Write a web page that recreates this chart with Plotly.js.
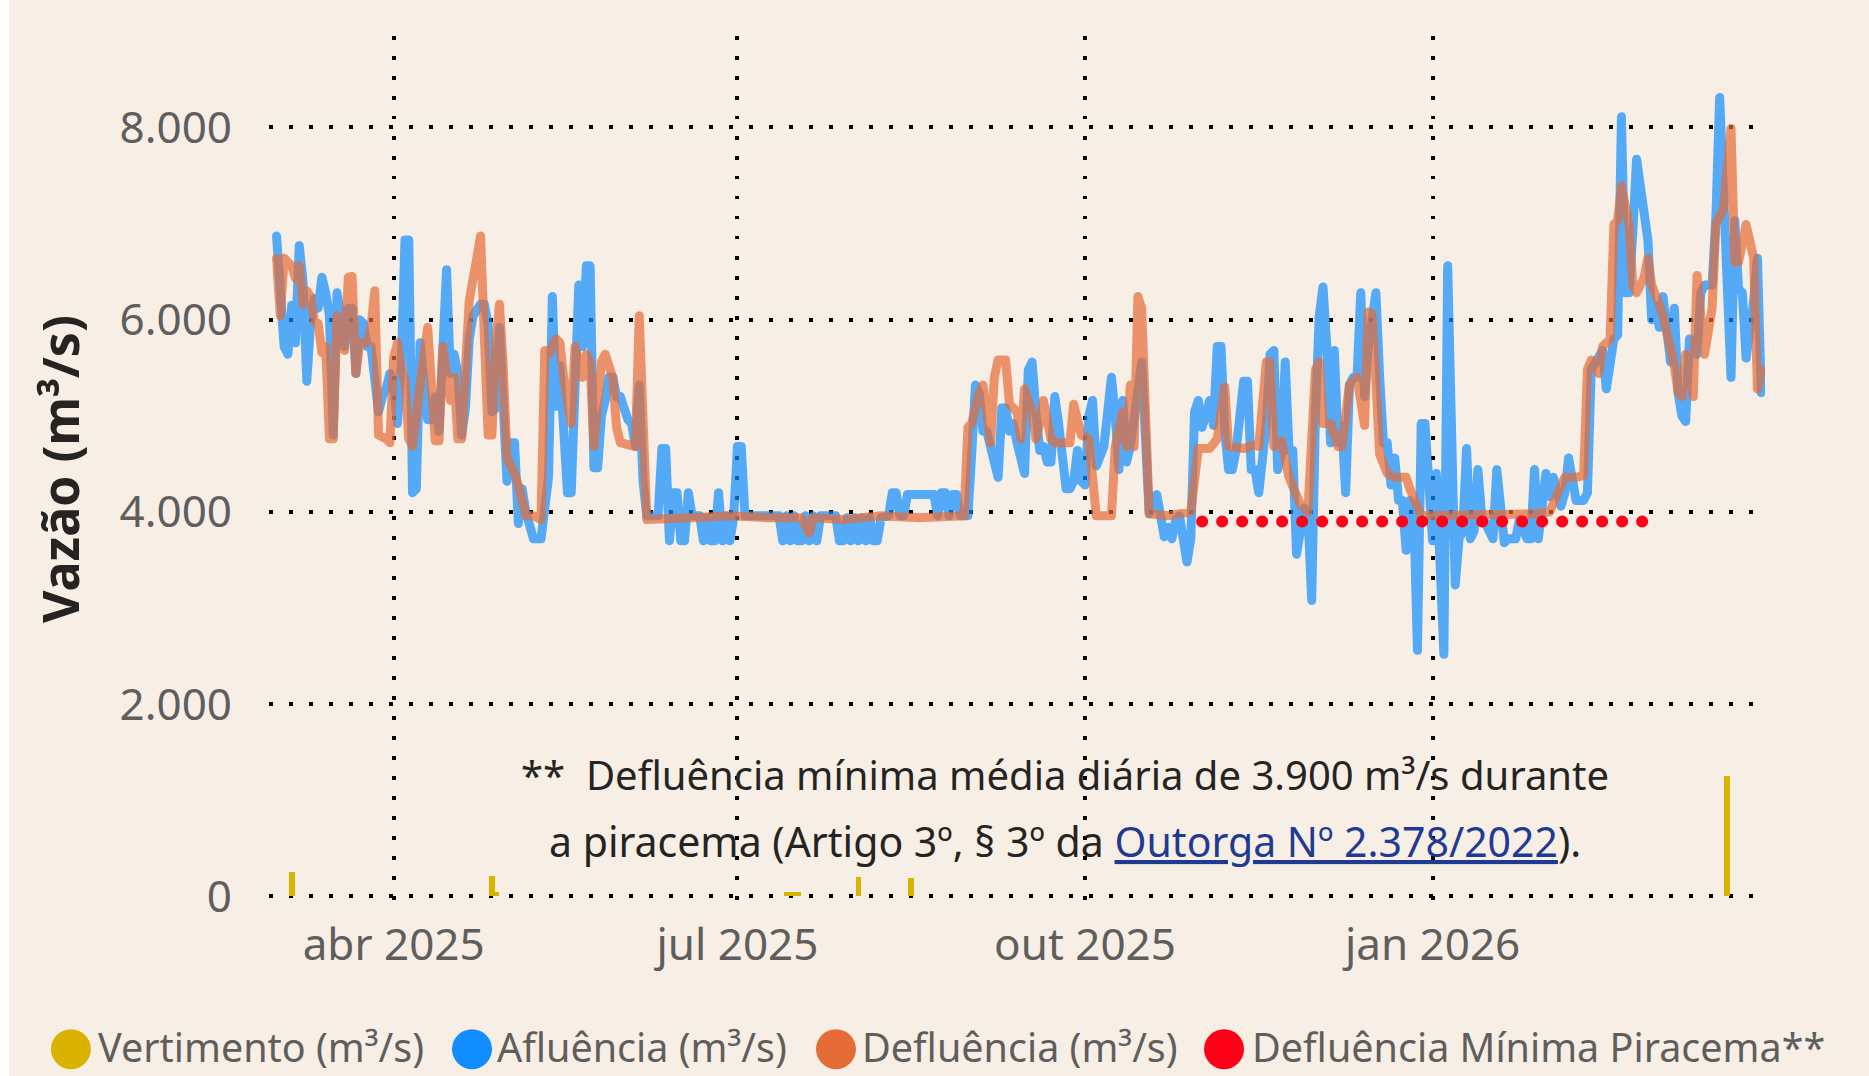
<!DOCTYPE html>
<html>
<head>
<meta charset="utf-8">
<script src="https://cdn.plot.ly/plotly-3.0.1.min.js"></script>
<style>
html,body{margin:0;padding:0;background:#ffffff;}
#chart{position:absolute;left:9px;top:0;width:1860px;height:1076px;}
.scatterlayer .js-line{stroke-linejoin:round;stroke-linecap:round;}
</style>
</head>
<body>
<div id="chart"></div>
<script>
// ---------- DATA ----------
const seriesNames = ["Vertimento (m³/s)", "Afluência (m³/s)", "Defluência (m³/s)", "Defluência Mínima Piracema**"];

const xTickVals = ["2025-04-01", "2025-07-01", "2025-10-01", "2026-01-01"];
const xTickText = ["abr 2025", "jul 2025", "out 2025", "jan 2026"];
const yTickVals = [0, 2000, 4000, 6000, 8000];
const yTickText = ["0", "2.000", "4.000", "6.000", "8.000"];

// Vertimento (spillway) columns
const vertDates = ["2025-03-05", "2025-04-27", "2025-04-28", "2025-07-14", "2025-07-15", "2025-07-16", "2025-07-17", "2025-08-02", "2025-08-16", "2026-03-20"];
const vertValues = [250, 210, 45, 45, 45, 45, 45, 200, 190, 1250];

// Afluência (inflow)
const afluDates = [
"2025-03-01","2025-03-02","2025-03-03","2025-03-04","2025-03-05","2025-03-06","2025-03-07","2025-03-08","2025-03-09","2025-03-10",
"2025-03-11","2025-03-12","2025-03-13","2025-03-14","2025-03-15","2025-03-16","2025-03-17","2025-03-18","2025-03-19","2025-03-20",
"2025-03-21","2025-03-22","2025-03-23","2025-03-24","2025-03-25","2025-03-26","2025-03-27","2025-03-28","2025-03-29","2025-03-30",
"2025-03-31","2025-04-01","2025-04-02","2025-04-03","2025-04-04","2025-04-05","2025-04-06","2025-04-07","2025-04-08","2025-04-09",
"2025-04-10","2025-04-11","2025-04-12","2025-04-13","2025-04-15","2025-04-16","2025-04-17","2025-04-18","2025-04-19","2025-04-20",
"2025-04-21","2025-04-22","2025-04-24","2025-04-25","2025-04-26","2025-04-27","2025-04-28","2025-04-29","2025-05-01","2025-05-02",
"2025-05-03","2025-05-04","2025-05-05","2025-05-06","2025-05-08","2025-05-10","2025-05-12","2025-05-13","2025-05-14","2025-05-15",
"2025-05-17","2025-05-18","2025-05-19","2025-05-20","2025-05-21","2025-05-22","2025-05-23","2025-05-24","2025-05-25","2025-05-26",
"2025-05-27","2025-05-28","2025-05-29","2025-05-30","2025-05-31","2025-06-01","2025-06-02","2025-06-03","2025-06-04","2025-06-05",
"2025-06-06","2025-06-07","2025-06-10","2025-06-11","2025-06-12","2025-06-13","2025-06-14","2025-06-15","2025-06-16","2025-06-17",
"2025-06-18","2025-06-19","2025-06-21","2025-06-22","2025-06-23","2025-06-24","2025-06-25","2025-06-26","2025-06-27","2025-06-28",
"2025-06-29","2025-06-30","2025-07-01","2025-07-02","2025-07-03","2025-07-12","2025-07-13","2025-07-14","2025-07-15","2025-07-16",
"2025-07-17","2025-07-18","2025-07-19","2025-07-20","2025-07-21","2025-07-22","2025-07-23","2025-07-27","2025-07-28","2025-07-29",
"2025-07-30","2025-07-31","2025-08-01","2025-08-02","2025-08-03","2025-08-04","2025-08-05","2025-08-06","2025-08-07","2025-08-08",
"2025-08-10","2025-08-11","2025-08-12","2025-08-13","2025-08-14","2025-08-15","2025-08-22","2025-08-23","2025-08-24","2025-08-25",
"2025-08-26","2025-08-27","2025-08-28","2025-08-29","2025-08-31","2025-09-01","2025-09-02","2025-09-03","2025-09-04","2025-09-05",
"2025-09-07","2025-09-08","2025-09-09","2025-09-10","2025-09-11","2025-09-12","2025-09-13","2025-09-15","2025-09-16","2025-09-17",
"2025-09-18","2025-09-19","2025-09-20","2025-09-21","2025-09-22","2025-09-23","2025-09-24","2025-09-26","2025-09-27","2025-09-28",
"2025-09-29","2025-09-30","2025-10-01","2025-10-02","2025-10-03","2025-10-04","2025-10-06","2025-10-08","2025-10-09","2025-10-10",
"2025-10-11","2025-10-12","2025-10-13","2025-10-14","2025-10-15","2025-10-16","2025-10-18","2025-10-20","2025-10-22","2025-10-23",
"2025-10-24","2025-10-25","2025-10-26","2025-10-27","2025-10-28","2025-10-29","2025-10-30","2025-10-31","2025-11-01","2025-11-03",
"2025-11-04","2025-11-05","2025-11-06","2025-11-07","2025-11-08","2025-11-09","2025-11-10","2025-11-11","2025-11-12","2025-11-13",
"2025-11-14","2025-11-15","2025-11-16","2025-11-18","2025-11-19","2025-11-20","2025-11-21","2025-11-22","2025-11-23","2025-11-24",
"2025-11-25","2025-11-26","2025-11-27","2025-11-28","2025-11-29","2025-11-30","2025-12-01","2025-12-02","2025-12-03","2025-12-04",
"2025-12-05","2025-12-06","2025-12-07","2025-12-08","2025-12-09","2025-12-10","2025-12-11","2025-12-12","2025-12-13","2025-12-14",
"2025-12-15","2025-12-17","2025-12-18","2025-12-19","2025-12-20","2025-12-21","2025-12-22","2025-12-23","2025-12-24","2025-12-25",
"2025-12-26","2025-12-27","2025-12-28","2025-12-29","2025-12-30","2025-12-31","2026-01-01","2026-01-02","2026-01-04","2026-01-05",
"2026-01-07","2026-01-08","2026-01-09","2026-01-10","2026-01-11","2026-01-12","2026-01-13","2026-01-14","2026-01-16","2026-01-17",
"2026-01-18","2026-01-19","2026-01-20","2026-01-21","2026-01-23","2026-01-24","2026-01-26","2026-01-27","2026-01-28","2026-01-29",
"2026-01-31","2026-02-01","2026-02-02","2026-02-04","2026-02-05","2026-02-06","2026-02-08","2026-02-10","2026-02-11","2026-02-12",
"2026-02-14","2026-02-15","2026-02-16","2026-02-17","2026-02-18","2026-02-19","2026-02-20","2026-02-21","2026-02-22","2026-02-23",
"2026-02-24","2026-02-26","2026-02-27","2026-02-28","2026-03-01","2026-03-02","2026-03-03","2026-03-05","2026-03-06","2026-03-07",
"2026-03-08","2026-03-09","2026-03-10","2026-03-11","2026-03-12","2026-03-13","2026-03-14","2026-03-16","2026-03-17","2026-03-18",
"2026-03-19","2026-03-20","2026-03-21","2026-03-22","2026-03-23","2026-03-24","2026-03-25","2026-03-27","2026-03-28","2026-03-29"
];
const afluValues = [
6870,6200,5720,5640,6150,5760,6770,6400,5360,5960,
6220,6120,6440,6280,6040,4800,6280,6040,5720,6120,
6120,5440,6000,5960,5720,5720,5400,5040,5200,5280,
5440,5320,4920,5520,6830,6830,4200,4240,5760,5300,
4960,4960,5200,4840,6520,5440,5640,5440,4800,5080,
5800,6040,6160,6160,5960,5040,5080,5920,4320,4720,
4720,3880,4240,4000,3720,3720,4360,6240,5100,5520,
4200,4200,5720,6360,5720,6560,6560,4460,4460,5000,
5160,5400,5400,5200,5200,5040,4960,4920,4680,5320,
4320,3960,3960,4660,4660,3700,4200,4200,3700,3700,
4200,3960,3960,3700,3940,3700,3700,4200,3700,3960,
3700,3940,4680,4680,3960,3960,3700,3960,3700,3960,
3700,3700,3960,3700,3960,3700,3960,3960,3700,3700,
3940,3700,3940,3700,3940,3700,3940,3700,3700,3940,
3960,4200,4200,3960,3960,4180,4180,3960,4200,4200,
3960,4180,4180,3960,3960,4600,5320,5240,4840,4840,
4440,4360,5080,5080,4840,4920,4720,4400,5480,5560,
5040,4640,4680,4520,4520,5200,4920,4240,4240,4320,
4640,4320,4280,5000,5160,4480,4680,5400,5000,4440,
5160,4520,4680,4960,5160,5560,3980,4180,3740,3840,
3720,3920,3960,3720,3480,3720,5040,5160,4880,5160,
4900,5720,5720,4840,4440,4440,4640,5000,5360,5360,
4440,4440,4200,4920,5640,5680,4440,4600,5560,4640,
4640,3560,3880,4040,4000,3080,5000,6040,6340,5720,
4720,5680,4720,4900,4200,5320,5400,5400,6280,5200,
5720,6280,5400,4720,4720,4280,4560,4120,4120,3600,
4120,4040,2560,4920,4920,4400,3700,4400,2520,6560,
3240,3720,3800,4660,3720,3800,4440,3960,3760,3720,
4440,3920,3680,3720,3720,3920,3720,3720,4440,3720,
4400,4160,4360,4060,4200,4560,4120,4120,4200,5480,
5640,5680,5280,5640,5800,5840,8110,6280,6280,6900,
7670,7110,6830,6000,6150,5920,6240,5560,6120,5240,
5000,4940,5800,5680,5640,6280,6360,6360,7070,8310,
7430,6640,5400,7030,6320,6280,5600,6200,6640,5240
];

// Defluência (outflow)
const deflDates = [
"2025-03-01","2025-03-02","2025-03-03","2025-03-04","2025-03-05","2025-03-06","2025-03-07","2025-03-08","2025-03-09","2025-03-10",
"2025-03-11","2025-03-12","2025-03-13","2025-03-14","2025-03-15","2025-03-16","2025-03-17","2025-03-18","2025-03-19","2025-03-20",
"2025-03-21","2025-03-22","2025-03-23","2025-03-25","2025-03-26","2025-03-27","2025-03-28","2025-03-30","2025-03-31","2025-04-01",
"2025-04-02","2025-04-03","2025-04-04","2025-04-05","2025-04-06","2025-04-08","2025-04-10","2025-04-12","2025-04-13","2025-04-14",
"2025-04-15","2025-04-16","2025-04-17","2025-04-18","2025-04-19","2025-04-20","2025-04-21","2025-04-23","2025-04-24","2025-04-26",
"2025-04-27","2025-04-28","2025-04-29","2025-04-30","2025-05-01","2025-05-03","2025-05-04","2025-05-06","2025-05-08","2025-05-10",
"2025-05-11","2025-05-12","2025-05-14","2025-05-15","2025-05-16","2025-05-18","2025-05-19","2025-05-21","2025-05-22","2025-05-23",
"2025-05-24","2025-05-26","2025-05-27","2025-05-29","2025-05-30","2025-05-31","2025-06-03","2025-06-04","2025-06-05","2025-06-06",
"2025-06-07","2025-06-19","2025-06-29","2025-07-09","2025-07-18","2025-07-20","2025-07-21","2025-07-29","2025-08-08","2025-08-18",
"2025-08-28","2025-08-30","2025-08-31","2025-09-01","2025-09-03","2025-09-04","2025-09-06","2025-09-07","2025-09-08","2025-09-10",
"2025-09-11","2025-09-13","2025-09-14","2025-09-15","2025-09-17","2025-09-18","2025-09-19","2025-09-20","2025-09-22","2025-09-23",
"2025-09-27","2025-09-28","2025-09-30","2025-10-02","2025-10-04","2025-10-08","2025-10-09","2025-10-11","2025-10-12","2025-10-13",
"2025-10-14","2025-10-15","2025-10-16","2025-10-18","2025-10-23","2025-10-29","2025-10-31","2025-11-03","2025-11-05","2025-11-07",
"2025-11-08","2025-11-12","2025-11-15","2025-11-16","2025-11-18","2025-11-19","2025-11-20","2025-11-22","2025-11-24","2025-11-27",
"2025-11-29","2025-12-01","2025-12-02","2025-12-03","2025-12-05","2025-12-07","2025-12-08","2025-12-10","2025-12-12","2025-12-14",
"2025-12-15","2025-12-16","2025-12-17","2025-12-18","2025-12-20","2025-12-22","2025-12-25","2025-12-26","2025-12-29","2026-01-15",
"2026-01-28","2026-02-01","2026-02-04","2026-02-05","2026-02-08","2026-02-10","2026-02-11","2026-02-12","2026-02-14","2026-02-15",
"2026-02-17","2026-02-18","2026-02-19","2026-02-20","2026-02-22","2026-02-23","2026-02-24","2026-02-26","2026-02-27","2026-02-28",
"2026-03-02","2026-03-03","2026-03-06","2026-03-07","2026-03-08","2026-03-09","2026-03-11","2026-03-12","2026-03-14","2026-03-16",
"2026-03-17","2026-03-19","2026-03-21","2026-03-22","2026-03-23","2026-03-25","2026-03-27","2026-03-28","2026-03-29"
];
const deflValues = [
6640,6040,6640,6600,6560,6430,6560,6160,6300,6240,
5980,5960,5660,5720,4760,4760,6040,5960,5680,6440,
6450,5440,5760,5760,5920,6300,4800,4760,4720,5600,
5760,5500,5360,4760,4680,5320,5920,4740,4740,5720,
5360,5160,5400,4760,4760,5320,6200,6640,6870,4800,
4800,5720,6160,5520,4560,4400,4280,3960,3960,3920,
5680,5640,5800,5760,5400,4920,5720,5400,5640,5560,
4680,5560,5640,5400,4880,4720,4700,4680,6040,4900,
3920,3940,3960,3940,3940,3780,3940,3920,3960,3940,
3950,3960,4880,4920,5240,5320,4720,5400,5580,5580,
5120,5040,4760,5280,5040,4760,4920,5160,4760,4720,
4720,5120,4800,4760,3960,3960,4680,5040,4680,5320,
4680,6240,6120,3980,3960,4000,4660,4660,4760,5300,
4680,4660,4700,4680,5560,5560,4680,4740,4360,4080,
4000,5480,5560,4920,4920,4680,4680,5320,5400,4900,
6080,6060,5360,4600,4400,4360,4360,4240,3960,3960,
3980,4000,4280,4360,4360,4380,5480,5580,5440,5720,
5800,6990,7030,7390,6990,6360,6280,6440,6640,6360,
6160,6040,5520,5240,5200,5640,5200,6460,5640,6120,
6990,7150,7990,6600,6600,6990,6640,5280,5480
];

// Defluência mínima durante a piracema (3.900 m³/s)
const piracemaDates = ["2025-11-01", "2026-02-28"];
const piracemaValues = [3900, 3900];

const seriesColors = ["#D9B300", "#118DFF", "#E66C37", "#FF0019"];

// ---------- TRACES ----------
const DAY = 86400000;
const traces = [
  {type: "bar", name: seriesNames[0], x: vertDates, y: vertValues,
   marker: {color: seriesColors[0]}, width: DAY * 1.5, showlegend: false, hoverinfo: "x+y"},
  {type: "scatter", mode: "lines", name: seriesNames[1], x: afluDates, y: afluValues,
   line: {color: seriesColors[1], width: 9}, opacity: 0.7, showlegend: false},
  {type: "scatter", mode: "lines", name: seriesNames[2], x: deflDates, y: deflValues,
   line: {color: seriesColors[2], width: 9}, opacity: 0.7, showlegend: false},
  {type: "scatter", mode: "lines", name: seriesNames[3], x: piracemaDates, y: piracemaValues,
   line: {color: seriesColors[3], width: 12, dash: "0.1px,19.9px"}, showlegend: false}
];

// ---------- CUSTOM LEGEND (shapes + text) ----------
const legendCenters = [-0.1324, 0.1357, 0.3790, 0.6384];
const legendTextX = [-0.1150, 0.1517, 0.3957, 0.6564];
const legendY = -0.1680;
const shapes = seriesColors.map((c, i) => ({
  type: "circle", xref: "paper", yref: "paper",
  xsizemode: "pixel", ysizemode: "pixel",
  xanchor: legendCenters[i], yanchor: legendY - 0.002,
  x0: -20, x1: 20, y0: -20, y1: 20,
  fillcolor: c, line: {width: 0}
}));
const annotations = seriesNames.map((n, i) => ({
  xref: "paper", yref: "paper", x: legendTextX[i], y: legendY,
  xanchor: "left", yanchor: "middle", showarrow: false, text: n, borderpad: 0,
  font: {size: 39.5, color: "#605E5C"}
}));
annotations.push({
  xref: "paper", yref: "paper", x: 0.5318, y: 0.1475, xanchor: "center", yanchor: "middle",
  showarrow: false, text: "**&nbsp; Defluência mínima média diária de 3.900 m³/s durante",
  font: {size: 40, color: "#252423"}
});
annotations.push({
  xref: "paper", yref: "paper", x: 0.5318, y: 0.0700, xanchor: "center", yanchor: "middle",
  showarrow: false,
  text: "a piracema (Artigo 3º, § 3º da <a href=\"https://www.gov.br/ana/\"><span style=\"color:#1F3A93\"><u>Outorga Nº 2.378/2022</u></span></a>).",
  font: {size: 41, color: "#252423"}
});

const gridDash = "3.5px,16.5px";
const layout = {
  width: 1860, height: 1076,
  paper_bgcolor: "#F7EFE5", plot_bgcolor: "#F7EFE5",
  margin: {l: 260, r: 104, t: 36, b: 174},
  font: {family: "'Segoe UI', 'Noto Sans', sans-serif", color: "#605E5C"},
  showlegend: false,
  bargap: 0,
  xaxis: {
    type: "date", range: ["2025-02-27", "2026-03-30"],
    tickvals: xTickVals, ticktext: xTickText,
    showgrid: true, gridcolor: "#000000", gridwidth: 3.5, griddash: gridDash,
    zeroline: false, showline: false, ticks: "",
    tickfont: {size: 44, color: "#605E5C"}, ticklabelstandoff: 13
  },
  yaxis: {
    range: [-58, 8951],
    tickvals: yTickVals, ticktext: yTickText,
    showgrid: true, gridcolor: "#000000", gridwidth: 3.5, griddash: gridDash,
    zeroline: false, showline: false, ticks: "",
    tickfont: {size: 44, color: "#605E5C"}, ticklabelstandoff: 36,
    title: {text: "Vazão (m³/s)", font: {size: 50, color: "#252423", weight: "bold"}, standoff: 24}
  },
  shapes: shapes,
  annotations: annotations
};

Plotly.newPlot("chart", traces, layout, {displayModeBar: false});
</script>
</body>
</html>
